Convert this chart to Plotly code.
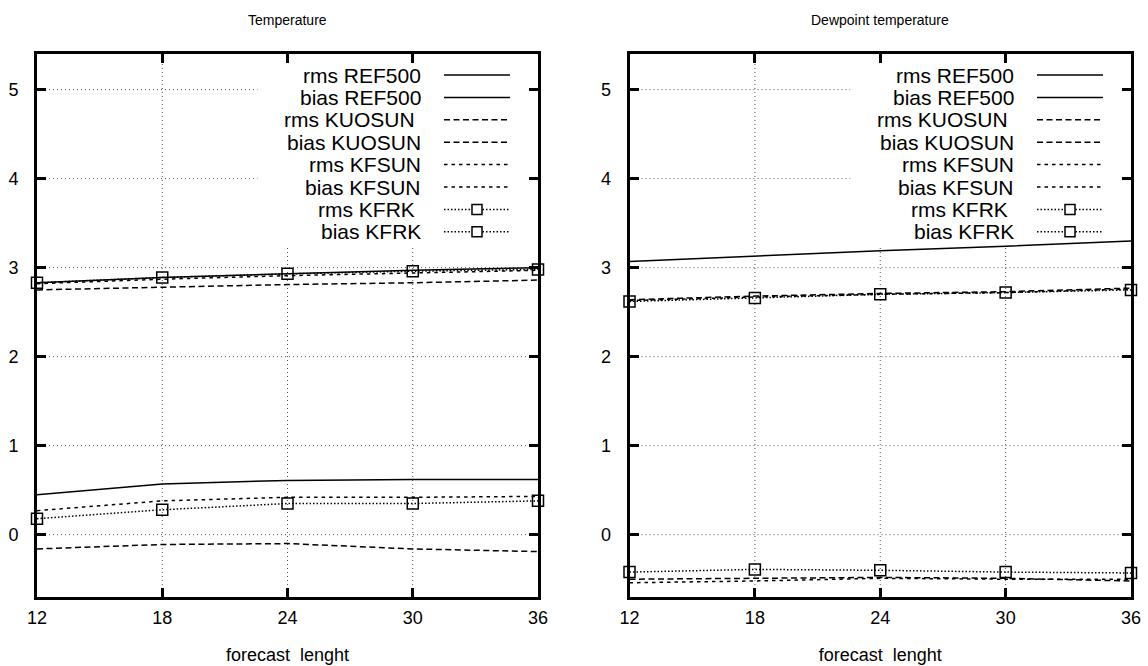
import plotly.graph_objects as go

# ---------------- data ----------------
hours = [12, 18, 24, 30, 36]
x_ticks = [12, 18, 24, 30, 36]
y_ticks = [0, 1, 2, 3, 4, 5]

panel_titles = ["Temperature", "Dewpoint temperature"]
x_title = "forecast  lenght"

series_names = ["rms REF500", "bias REF500", "rms KUOSUN\u00a0", "bias KUOSUN",
                "rms KFSUN", "bias KFSUN", "rms KFRK\u00a0", "bias KFRK"]

# Temperature
t_rms_ref500 = [2.83, 2.89, 2.93, 2.97, 3.00]
t_bias_ref500 = [0.45, 0.57, 0.61, 0.62, 0.62]
t_rms_kuosun = [2.75, 2.78, 2.81, 2.83, 2.86]
t_bias_kuosun = [-0.16, -0.11, -0.10, -0.16, -0.19]
t_rms_kfsun = [2.82, 2.87, 2.91, 2.94, 2.97]
t_bias_kfsun = [0.27, 0.38, 0.42, 0.42, 0.43]
t_rms_kfrk = [2.83, 2.89, 2.93, 2.96, 2.98]
t_bias_kfrk = [0.18, 0.28, 0.35, 0.35, 0.38]

# Dewpoint temperature (bias REF500 is not visible in the chart)
d_rms_ref500 = [3.07, 3.13, 3.19, 3.24, 3.30]
d_bias_ref500 = [None, None, None, None, None]
d_rms_kuosun = [2.64, 2.68, 2.71, 2.73, 2.77]
d_bias_kuosun = [-0.50, -0.49, -0.48, -0.49, -0.52]
d_rms_kfsun = [2.63, 2.67, 2.70, 2.72, 2.76]
d_bias_kfsun = [-0.54, -0.52, -0.49, -0.50, -0.50]
d_rms_kfrk = [2.62, 2.66, 2.70, 2.72, 2.75]
d_bias_kfrk = [-0.42, -0.39, -0.40, -0.42, -0.43]

panels = [
    [t_rms_ref500, t_bias_ref500, t_rms_kuosun, t_bias_kuosun,
     t_rms_kfsun, t_bias_kfsun, t_rms_kfrk, t_bias_kfrk],
    [d_rms_ref500, d_bias_ref500, d_rms_kuosun, d_bias_kuosun,
     d_rms_kfsun, d_bias_kfsun, d_rms_kfrk, d_bias_kfrk],
]

# ---------------- styles ----------------
FONT = "Liberation Sans, Arial, Helvetica, sans-serif"
dashes = ["solid", "solid", "6px,3.5px", "6px,3.5px", "3.5px,4px", "3.5px,4px", "1.5px,2px", "1.5px,2px"]
has_marker = [False, False, False, False, False, False, True, True]
X_RANGE = [12, 36]
Y_RANGE = [-0.7, 5.4]
KEY_LEFT = 0.44     # fraction of plot width where key area starts
KEY_BOTTOM = 0.648  # fraction of plot height where key area ends

fig = go.Figure()

x_domains = [[37 / 1148, 538 / 1148], [629.5 / 1148, 1131 / 1148]]
y_domain = [1 - 597 / 666, 1 - 54 / 666]

shapes = []
annotations = []
GRID = dict(color="#555", width=1, dash="1px,3px")

for p, series in enumerate(panels):
    xa = "x" if p == 0 else "x2"
    ya = "y" if p == 0 else "y2"
    for name, vals, dash, mk in zip(series_names, series, dashes, has_marker):
        fig.add_trace(go.Scatter(
            x=hours, y=vals, xaxis=xa, yaxis=ya, name=name,
            mode="lines+markers" if mk else "lines",
            line=dict(color="black", width=1.5, dash=dash),
            marker=dict(symbol="square-open", size=11, color="black",
                        line=dict(width=1.5, color="black")),
            cliponaxis=not mk, showlegend=False,
        ))

    xref_d = xa + " domain"
    yref_d = ya + " domain"

    # grid (dotted), interrupted by the key area as in gnuplot
    key_left_val = X_RANGE[0] + KEY_LEFT * (X_RANGE[1] - X_RANGE[0])
    key_bottom_val = Y_RANGE[0] + KEY_BOTTOM * (Y_RANGE[1] - Y_RANGE[0])
    for xv in x_ticks[1:-1]:
        shapes.append(dict(type="line", xref=xa, yref=yref_d, layer="below",
                           x0=xv, x1=xv, y0=0, y1=KEY_BOTTOM if xv > key_left_val else 1,
                           line=GRID))
    for yv in y_ticks:
        shapes.append(dict(type="line", xref=xref_d, yref=ya, layer="below",
                           x0=0, x1=KEY_LEFT if yv > key_bottom_val else 1, y0=yv, y1=yv,
                           line=GRID))

    # key entries
    for i, (name, dash, mk) in enumerate(zip(series_names, dashes, has_marker)):
        off = -21 - 22.4 * i
        annotations.append(dict(
            text=name, xref=xref_d, yref=yref_d, x=1, y=1,
            xshift=-115, yshift=off, xanchor="right", yanchor="middle",
            showarrow=False, font=dict(family=FONT, size=21, color="black")))
        shapes.append(dict(type="line", xref=xref_d, yref=yref_d,
                           xsizemode="pixel", ysizemode="pixel", xanchor=1, yanchor=1,
                           x0=-94, x1=-28, y0=off, y1=off, layer="above",
                           line=dict(color="black", width=1.5, dash=dash)))
        if mk:
            shapes.append(dict(type="rect", xref=xref_d, yref=yref_d,
                               xsizemode="pixel", ysizemode="pixel", xanchor=1, yanchor=1,
                               x0=-66, x1=-56, y0=off - 5, y1=off + 5, layer="above",
                               fillcolor="white", line=dict(color="black", width=1.5)))

    # panel title
    annotations.append(dict(text=panel_titles[p], xref=xref_d, yref=yref_d,
                            x=0.5, y=1, yshift=34, xanchor="center", yanchor="middle",
                            showarrow=False, font=dict(family=FONT, size=14, color="black")))

axis_common = dict(
    showline=True, linewidth=3, linecolor="black", mirror="ticks",
    ticks="inside", ticklen=9, tickwidth=3, tickcolor="black",
    showgrid=False, zeroline=False, automargin=False,
    tickfont=dict(family=FONT, size=18, color="black"),
)

for p in range(2):
    sfx = "" if p == 0 else "2"
    fig.update_layout(**{
        "xaxis" + sfx: dict(axis_common, domain=x_domains[p], range=X_RANGE,
                            tickvals=x_ticks, anchor="y" + sfx,
                            ticklabelstandoff=2,
                            title=dict(text=x_title, standoff=22,
                                       font=dict(family=FONT, size=18, color="black"))),
        "yaxis" + sfx: dict(axis_common, domain=y_domain, range=Y_RANGE,
                            tickvals=y_ticks, anchor="x" + sfx,
                            ticklabelstandoff=12),
    })

fig.update_layout(
    template="none",
    width=1148, height=666,
    margin=dict(l=0, r=0, t=0, b=0, pad=0),
    plot_bgcolor="white", paper_bgcolor="white",
    font=dict(family=FONT, color="black"),
    shapes=shapes, annotations=annotations,
    showlegend=False,
)

fig.write_html("out.html", config={"displayModeBar": False},
               post_script="document.body.style.margin='0';document.body.style.overflow='hidden';")
